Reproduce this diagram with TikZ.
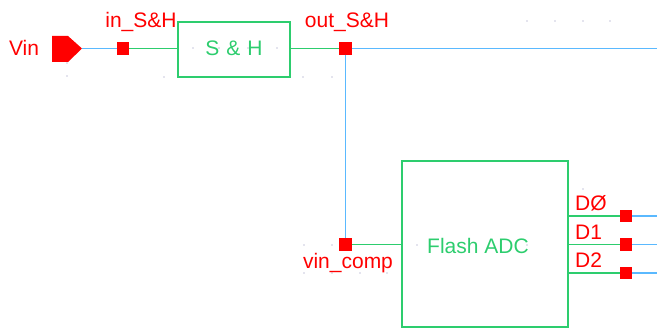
\documentclass[tikz,border=0pt]{standalone}
\usepackage{fontspec}
\setmainfont{Liberation Sans}
\definecolor{pinred}{RGB}{255,0,0}
\definecolor{symgreen}{RGB}{45,205,110}
\definecolor{wireblue}{RGB}{90,185,255}
\definecolor{griddot}{RGB}{140,140,180}
\begin{document}
\begin{tikzpicture}[x=1pt,y=-1pt,
  pinsq/.style={fill=pinred,draw=none,minimum size=12.5pt,inner sep=0pt,outer sep=0pt},
  symbox/.style={draw=symgreen,line width=1.5pt,inner sep=0pt,outer sep=0pt},
  gwire/.style={draw=symgreen,line width=1.5pt},
  bwire/.style={draw=wireblue,line width=1.5pt},
  redtxt/.style={text=pinred,font=\fontsize{21}{23}\selectfont,inner sep=0pt},
  greentxt/.style={text=symgreen,font=\fontsize{21}{23}\selectfont,inner sep=0pt},
  gdot/.style={fill=griddot}
]
\useasboundingbox (0,0) rectangle (657,329);
% grid dots
\foreach \p in {(67,63),(67,76),(164,77),(193,48),(219,48),(248,48),(277,48),(303,77),(332,77),
  (527,21),(555,21),(583,21),(610,21),(304,245),(332,245),(417,245),(527,245),(583,189),
  (304,273),(332,273),(360,273),(387,273)}
  \fill[gdot] \p circle (0.7pt);
% Vin pin
\fill[pinred] (52,36) -- (68,36) -- (82,48.5) -- (68,62) -- (52,62) -- cycle;
\coordinate (vintip) at (82,48.5);
\node[redtxt] (vinlbl) at (24,48) {Vin};
% S&H
\node[pinsq] (p1) at (123,48.5) {};
\node[redtxt] (p1lbl) at (141,22) {in\_S\&H};
\node[symbox,minimum width=112pt,minimum height=55pt] (sh) at (234,49.5) {};
\node[greentxt] (shtxt) at (234,48.5) {S\hspace{7pt}\&\hspace{7pt}H};
\node[pinsq] (p2) at (345.5,48.5) {};
\node[redtxt] (p2lbl) at (347,22) {out\_S\&H};
\coordinate (rightend) at (657,48.5);
% Flash ADC
\node[symbox,minimum width=166pt,minimum height=166pt] (adc) at (485,244) {};
\node[greentxt] (adctxt) at (478,246) {Flash ADC};
\node[pinsq] (p3) at (345.5,244.5) {};
\node[redtxt] (p3lbl) at (348,263) {vin\_comp};
\node[pinsq] (d0) at (626,216) {};
\node[pinsq] (d1) at (626,244.5) {};
\node[pinsq] (d2) at (626,273) {};
\node[redtxt,anchor=west] (d0lbl) at (575,203) {DØ};
\node[redtxt,anchor=west] (d1lbl) at (575,232) {D1};
\node[redtxt,anchor=west] (d2lbl) at (575,260) {D2};
\coordinate (d0r) at (657,216);
\coordinate (d1r) at (657,244.5);
\coordinate (d2r) at (657,273);
% wires
\draw[bwire] (vintip) -- (p1.west);
\draw[gwire] (p1.east) -- (p1.east -| sh.west);
\draw[gwire] (p2.west -| sh.east) -- (p2.west);
\draw[bwire] (p2.east) -- (rightend);
\draw[bwire] (p2.south) -- (p3.north);
\draw[gwire] (p3.east) -- (p3.east -| adc.west);
\draw[gwire] (d0.west -| adc.east) -- (d0.west);
\draw[gwire] (d1.west -| adc.east) -- (d1.west);
\draw[gwire] (d2.west -| adc.east) -- (d2.west);
\draw[bwire] (d0.east) -- (d0r);
\draw[bwire] (d1.east) -- (d1r);
\draw[bwire] (d2.east) -- (d2r);
\end{tikzpicture}
\end{document}
